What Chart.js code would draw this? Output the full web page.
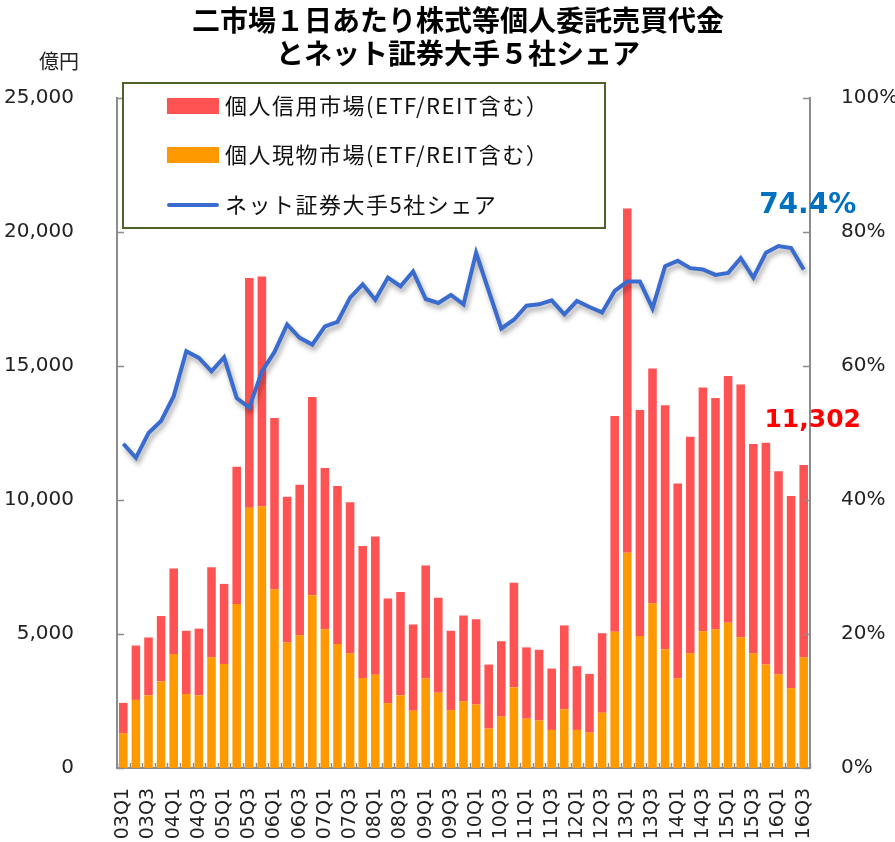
<!DOCTYPE html>
<html lang="ja">
<head>
<meta charset="utf-8">
<title>二市場１日あたり株式等個人委託売買代金とネット証券大手５社シェア</title>
<script src="https://cdn.jsdelivr.net/npm/chart.js@4.4.0/dist/chart.umd.min.js"></script>
<style>
    html, body { margin: 0; padding: 0; background: #fff; }
</style>
</head>
<body>
<canvas id="grafico" width="895" height="842"></canvas>
<script>
const trimestres = [
    '03Q1', '03Q2', '03Q3', '03Q4', '04Q1', '04Q2', '04Q3', '04Q4',
    '05Q1', '05Q2', '05Q3', '05Q4', '06Q1', '06Q2', '06Q3', '06Q4',
    '07Q1', '07Q2', '07Q3', '07Q4', '08Q1', '08Q2', '08Q3', '08Q4',
    '09Q1', '09Q2', '09Q3', '09Q4', '10Q1', '10Q2', '10Q3', '10Q4',
    '11Q1', '11Q2', '11Q3', '11Q4', '12Q1', '12Q2', '12Q3', '12Q4',
    '13Q1', '13Q2', '13Q3', '13Q4', '14Q1', '14Q2', '14Q3', '14Q4',
    '15Q1', '15Q2', '15Q3', '15Q4', '16Q1', '16Q2', '16Q3'
];

// 個人現物市場 (億円)
const genbutsu = [
    1300, 2540, 2710, 3230, 4250, 2760, 2710, 4130,
    3880, 6120, 9710, 9770, 6670, 4680, 4950, 6450,
    5180, 4630, 4280, 3360, 3480, 2420, 2710, 2140,
    3340, 2810, 2160, 2490, 2370, 1470, 1920, 3010,
    1840, 1770, 1420, 2190, 1420, 1320, 2060, 5080,
    8030, 4930, 6150, 4430, 3340, 4280, 5100, 5180,
    5420, 4880, 4280, 3860, 3490, 2980, 4130
];

// 個人信用市場 (億円)
const shinyo = [
    1130, 2030, 2160, 2440, 3190, 2360, 2490, 3360,
    2990, 5120, 8570, 8570, 6390, 5440, 5620, 7390,
    6010, 5890, 5640, 4920, 5160, 3900, 3860, 3210,
    4220, 3540, 2960, 3200, 3180, 2390, 2810, 3900,
    2660, 2640, 2290, 3130, 2380, 2190, 2970, 8050,
    12850, 8430, 8760, 9110, 7280, 8080, 9100, 8630,
    9210, 9430, 7810, 8280, 7580, 7170, 7172
];

// ネット証券大手5社シェア (%)
const cuota = [
    48.4, 46.3, 50.0, 51.8, 55.5, 62.2, 61.2, 59.2,
    61.3, 55.2, 53.8, 59.2, 62.1, 66.2, 64.2, 63.2,
    65.9, 66.6, 70.2, 72.2, 69.9, 73.2, 71.9, 74.1,
    70.0, 69.4, 70.6, 69.2, 76.9, 71.2, 65.6, 66.9,
    69.0, 69.2, 69.8, 67.7, 69.7, 68.8, 68.0, 71.2,
    72.6, 72.6, 68.6, 74.9, 75.7, 74.6, 74.4, 73.6,
    73.9, 76.1, 73.2, 76.9, 77.9, 77.6, 74.4
];

const titulo = ['二市場１日あたり株式等個人委託売買代金', 'とネット証券大手５社シェア'];
const ticksIzq = [0, 5000, 10000, 15000, 20000, 25000];
const ticksDer = [0, 20, 40, 60, 80, 100];

const ROJO = '#FF5353';
const NARANJA = '#FF9900';
const AZUL = '#3A6BCF';
const EJE = '#8C8C8C';
const FUENTE = "'DejaVu Sans', Verdana, sans-serif";
const FUENTE_JP = "'Noto Sans CJK JP', 'Noto Sans', sans-serif";

let grafico;

// sombra de la línea
const sombra = {
    id: 'sombra',
    beforeDatasetDraw(chart, args) {
        if (chart.data.datasets[args.index].type !== 'line') return;
        const ctx = chart.ctx;
        ctx.save();
        ctx.shadowColor = 'rgba(0, 0, 0, 0.35)';
        ctx.shadowBlur = 5;
        ctx.shadowOffsetX = 2;
        ctx.shadowOffsetY = 4;
    },
    afterDatasetDraw(chart, args) {
        if (chart.data.datasets[args.index].type !== 'line') return;
        chart.ctx.restore();
    }
};

// título, unidad, leyenda, marcas de eje y etiquetas finales
const adornos = {
    id: 'adornos',
    afterDraw(chart) {
        const ctx = chart.ctx;
        const { x, y, y2 } = chart.scales;
        ctx.save();

        // marcas hacia dentro
        ctx.strokeStyle = EJE;
        ctx.lineWidth = 1.5;
        ctx.beginPath();
        ticksIzq.forEach(v => {
            const py = Math.round(y.getPixelForValue(v)) + 0.5;
            ctx.moveTo(y.right, py);
            ctx.lineTo(y.right + 7, py);
        });
        ticksDer.forEach(v => {
            const py = Math.round(y2.getPixelForValue(v)) + 0.5;
            ctx.moveTo(y2.left, py);
            ctx.lineTo(y2.left - 7, py);
        });
        const paso = (x.getPixelForValue(1) - x.getPixelForValue(0));
        for (let i = 0; i <= trimestres.length; i++) {
            const px = Math.round(x.getPixelForValue(0) - paso / 2 + i * paso) + 0.5;
            ctx.moveTo(px, x.top);
            ctx.lineTo(px, x.top - 5);
        }
        ctx.stroke();

        // título
        ctx.fillStyle = '#000';
        ctx.textAlign = 'center';
        ctx.textBaseline = 'middle';
        ctx.font = `bold 28px ${FUENTE_JP}`;
        ctx.fillText(titulo[0], 458, 20);
        ctx.fillText(titulo[1], 458, 53);

        // unidad
        ctx.font = `20px ${FUENTE_JP}`;
        ctx.fillStyle = '#222';
        ctx.fillText('億円', 59, 61);

        // leyenda
        ctx.fillStyle = '#fff';
        ctx.fillRect(123, 83, 482, 145);
        ctx.strokeStyle = '#4F6228';
        ctx.lineWidth = 2;
        ctx.strokeRect(123, 83, 482, 145);

        const items = [
            { texto: chart.data.datasets[1].label, color: ROJO, tipo: 'caja', cy: 106 },
            { texto: chart.data.datasets[0].label, color: NARANJA, tipo: 'caja', cy: 155 },
            { texto: chart.data.datasets[2].label, color: AZUL, tipo: 'linea', cy: 205 }
        ];
        ctx.textAlign = 'left';
        ctx.font = `22px ${FUENTE_JP}`;
        ctx.letterSpacing = '1.5px';
        items.forEach(it => {
            if (it.tipo === 'caja') {
                ctx.fillStyle = it.color;
                ctx.fillRect(167, it.cy - 8, 52, 16);
            } else {
                ctx.strokeStyle = it.color;
                ctx.lineWidth = 4;
                ctx.lineCap = 'round';
                ctx.beginPath();
                ctx.moveTo(169, it.cy);
                ctx.lineTo(217, it.cy);
                ctx.stroke();
            }
            ctx.fillStyle = '#111';
            ctx.fillText(it.texto, 225, it.cy);
        });
        ctx.letterSpacing = '0px';

        // valores finales
        const ultimo = trimestres.length - 1;
        const pLinea = chart.getDatasetMeta(2).data[ultimo];
        const pBarra = chart.getDatasetMeta(1).data[ultimo];
        ctx.textAlign = 'center';
        ctx.font = `bold 28px ${FUENTE}`;
        ctx.fillStyle = '#0070C0';
        ctx.fillText(cuota[ultimo].toFixed(1) + '%', pLinea.x + 4, pLinea.y - 64);
        const total = genbutsu[ultimo] + shinyo[ultimo];
        ctx.font = `bold 25px ${FUENTE}`;
        ctx.fillStyle = '#FF0000';
        ctx.fillText(total.toLocaleString('en-US'), pBarra.x + 9, pBarra.y - 45);

        ctx.restore();
    }
};

function dibujarGrafico() {
    if (grafico) {
        grafico.destroy();
    }

    var ctx = document.getElementById('grafico').getContext('2d');
    grafico = new Chart(ctx, {
        data: {
            labels: trimestres,
            datasets: [
                {
                    type: 'bar',
                    label: '個人現物市場(ETF/REIT含む）',
                    backgroundColor: NARANJA,
                    data: genbutsu,
                    yAxisID: 'y',
                    order: 1,
                    barPercentage: 0.68,
                    categoryPercentage: 1.0,
                },
                {
                    type: 'bar',
                    label: '個人信用市場(ETF/REIT含む）',
                    backgroundColor: ROJO,
                    data: shinyo,
                    yAxisID: 'y',
                    order: 1,
                    barPercentage: 0.68,
                    categoryPercentage: 1.0,
                },
                {
                    type: 'line',
                    label: 'ネット証券大手5社シェア',
                    borderColor: AZUL,
                    borderWidth: 4,
                    pointRadius: 0,
                    tension: 0,
                    data: cuota,
                    yAxisID: 'y2',
                    order: 0,
                }
            ]
        },
        options: {
            responsive: false,
            animation: false,
            layout: { padding: { top: 98, left: 0, right: 0, bottom: 0 } },
            plugins: {
                legend: { display: false },
                tooltip: { enabled: false },
                title: { display: false },
            },
            scales: {
                x: {
                    stacked: true,
                    offset: true,
                    grid: { display: false },
                    border: { display: true, color: EJE, width: 2 },
                    ticks: {
                        autoSkip: false,
                        minRotation: 90,
                        maxRotation: 90,
                        padding: 12,
                        color: '#222',
                        font: { family: FUENTE, size: 19 },
                        callback: (v, i) => (i % 2 === 0 ? trimestres[i] : ''),
                    },
                    afterFit: (s) => { s.height = 74; },
                },
                y: {
                    position: 'left',
                    stacked: true,
                    min: 0,
                    max: 25000,
                    grid: { display: false },
                    border: { display: true, color: EJE, width: 2 },
                    ticks: {
                        stepSize: 5000,
                        padding: 35,
                        color: '#222',
                        font: { family: FUENTE, size: 20 },
                        callback: (v) => v.toLocaleString('en-US'),
                    },
                    afterFit: (s) => { s.width = 117; },
                },
                y2: {
                    position: 'right',
                    min: 0,
                    max: 100,
                    grid: { display: false },
                    border: { display: true, color: EJE, width: 2 },
                    ticks: {
                        stepSize: 20,
                        padding: 23,
                        color: '#222',
                        font: { family: FUENTE, size: 20 },
                        callback: (v) => v + '%',
                    },
                    afterFit: (s) => { s.width = 85; },
                }
            }
        },
        plugins: [sombra, adornos]
    });
}

dibujarGrafico();
</script>
</body>
</html>
